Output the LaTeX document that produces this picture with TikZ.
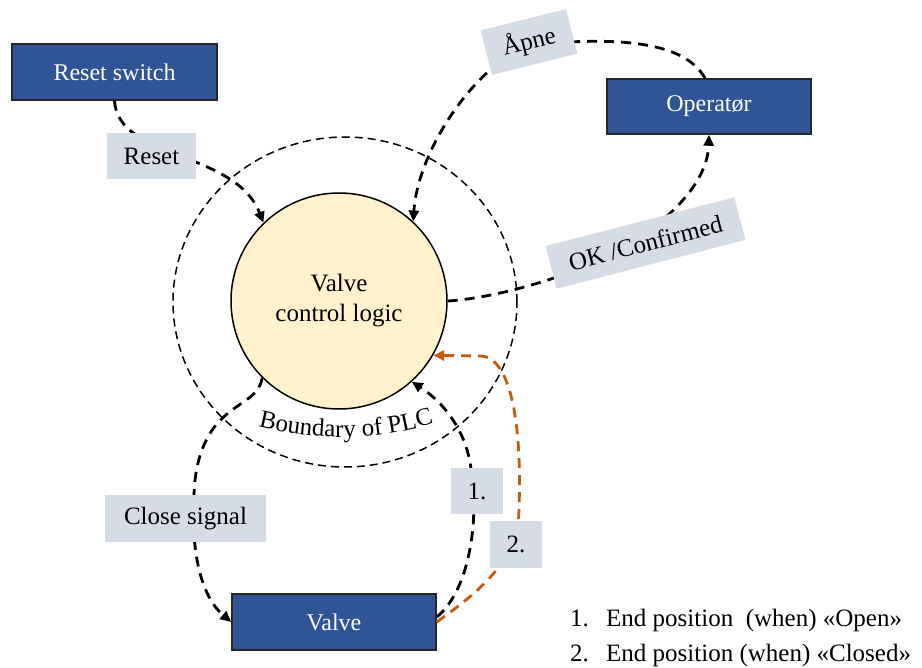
\documentclass[tikz,border=0pt]{standalone}
\usepackage{fontspec}
\setmainfont{Liberation Serif}
\usetikzlibrary{arrows.meta,decorations.text}
\definecolor{boxblue}{HTML}{2F5597}
\definecolor{lblgray}{HTML}{D6DCE5}
\definecolor{logicfill}{HTML}{FFF2CC}
\definecolor{sigorange}{HTML}{C55A11}
\newcommand\boxfont{\fontsize{24}{28}\selectfont}
\newcommand\lblfont{\fontsize{25}{30}\selectfont}
\newcommand\logicfont{\fontsize{25}{30}\selectfont}
\begin{document}
\begin{tikzpicture}[x=1pt,y=-1pt,
  bluebox/.style={draw=black!85, line width=1.5pt, fill=boxblue, text=white,
    minimum width=204pt, minimum height=56pt, inner sep=0pt, font=\boxfont},
  lbl/.style={fill=lblgray, inner sep=0pt, minimum height=46pt, font=\lblfont},
  flow/.style={line width=2.8pt, dash pattern=on 10pt off 7pt,
    -{Triangle[length=11pt,width=10pt]}},
  orangeflow/.style={flow, draw=sigorange},
  boundary/.style={line width=1.5pt, dash pattern=on 8pt off 5pt},
  legend/.style={anchor=base west, font=\lblfont, inner sep=0pt}
]
\useasboundingbox (0,0) rectangle (922,668);

% boundary of PLC
\draw[boundary] (345,302) ellipse [x radius=172pt, y radius=165pt];

% nodes
\node[circle, draw, line width=1.5pt, fill=logicfill, minimum size=216pt,
      align=center, font=\logicfont] (logic) at (339,301) {Valve\\control logic};
\node[bluebox, minimum width=205pt] (reset) at (114.5,72) {Reset switch};
\node[bluebox, minimum height=55pt] (op) at (709,106.5) {Operatør};
\node[bluebox] (valve) at (334,622) {Valve};

\path[decorate, decoration={text along path, text align=center,
      text={|\logicfont|Boundary of PLC}}]
  (248,424) .. controls (310,442) and (380,442) .. (444,420);

% connectors
\draw[flow] (reset.south) .. controls (118,160) and (235,150) .. (logic.134);
\draw[flow] ([xshift=-4pt]op.north) .. controls (685,42) and (620,36) .. (530,45)
  .. controls (475,65) and (418,150) .. (logic.47);
\draw[flow] (logic.east) .. controls (500,298) and (600,270) .. (650,230)
  .. controls (690,200) and (708,170) .. (op.south);
\draw[flow] (logic.-135) .. controls (258,410) and (205,400) .. (195,480)
  .. controls (188,560) and (205,600) .. (valve.west);
\draw[flow] ([yshift=5pt]valve.east) .. controls (470,590) and (478,520) .. (472,480)
  .. controls (470,430) and (440,400) .. (logic.-48);
\draw[orangeflow] (valve.east) .. controls (460,605) and (505,575) .. (518,530)
  .. controls (524,430) and (512,356) .. (480,356) -- (logic.-30);

% labels
\node[lbl, minimum width=89pt] (lreset) at (151.5,156.5) {Reset};
\node[lbl, minimum width=88pt, rotate=14] (lapne) at (529,42) {Åpne};
\node[lbl, minimum width=195pt, minimum height=44pt, rotate=14.5] (lok) at (645.5,243) {OK /Confirmed};
\node[lbl, minimum width=161pt, minimum height=47pt] (lclose) at (185.5,518.5) {Close signal};
\node[lbl, minimum width=52pt] (l1) at (477,491) {1.};
\node[lbl, minimum width=52pt, minimum height=47pt] (l2) at (516,544.5) {2.};

% legend
\node[legend] (leg1n) at (570,626) {1.};
\node[legend] (leg1) at (606,626) {End position\ \ (when) «Open»};
\node[legend] (leg2n) at (570,661) {2.};
\node[legend] (leg2) at (606,661) {End position (when) «Closed»};
\end{tikzpicture}
\end{document}
